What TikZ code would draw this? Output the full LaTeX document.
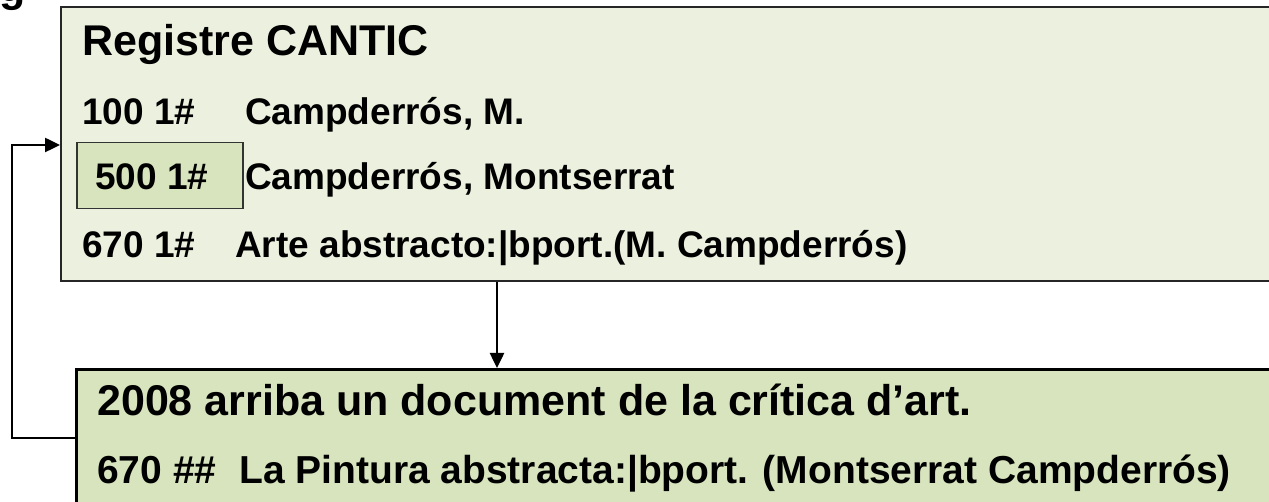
\documentclass[tikz,border=0pt]{standalone}
\usepackage{fontspec}
\setmainfont{Liberation Sans}
\usetikzlibrary{arrows.meta}
\definecolor{paleg}{HTML}{EBF1DE}
\definecolor{midg}{HTML}{D7E4BD}
\tikzset{
  boxa/.style={draw=black!85, line width=1.8pt, fill=paleg, anchor=north west, inner sep=0pt},
  boxb/.style={draw=black, line width=2.6pt, fill=midg, anchor=north west, inner sep=0pt},
  tagbox/.style={draw=black!80, line width=1.5pt, fill=midg, anchor=north west, inner sep=0pt},
  txt/.style={anchor=base west, inner sep=0pt, font=\fontsize{37}{44}\selectfont\bfseries},
  txtb/.style={anchor=base west, inner sep=0pt, font=\fontsize{39}{46}\selectfont\bfseries},
  ttl/.style={anchor=base west, inner sep=0pt, font=\fontsize{43}{50}\selectfont\bfseries},
  conn/.style={draw=black, line width=2.5pt, -{Triangle[length=15pt,width=14pt]}}
}
\begin{document}
\begin{tikzpicture}[x=1pt,y=-1pt]
\useasboundingbox (0,0) rectangle (1269,502);
\clip (0,0) rectangle (1269,502);
% partial glyph at top left
\node[ttl] (g) at (-1,2) {g};
% boxes
\node[boxa, minimum width=1230pt, minimum height=274pt] (reg) at (60,6) {};
\node[boxb, minimum width=1220pt, minimum height=150pt] (doc) at (75,368) {};
\node[tagbox, minimum width=166pt, minimum height=66pt] (tag) at (76,142) {};
% texts top box
\node[ttl] (t0) at (82,56) {Registre CANTIC};
\node[txt] (t1a) at (82,125) {100 1\#};
\node[txt] (t1b) at (245,125) {Campderrós, M.};
\node[txt] (t2a) at (95,190) {500 1\#};
\node[txt] (t2b) at (245,190) {Campderrós, Montserrat};
\node[txt] (t3a) at (82,258) {670 1\#};
\node[txt] (t3b) at (235,258) {Arte abstracto:|bport.(M. Campderrós)};
% texts bottom box
\node[ttl] (b0) at (97,416) {2008 arriba un document de la crítica d’art.};
\node[txtb] (b1a) at (97,483) {670 \#\#};
\node[txtb] (b1b) at (239,483) {La Pintura abstracta:|bport. (Montserrat Campderrós)};
% connectors
\coordinate (ax) at (497,0);
\coordinate (fy) at (0,438);
\coordinate (ty) at (0,145);
\coordinate (lx) at (12,0);
\draw[conn] (reg.south -| ax) -- (doc.north -| ax);
\draw[conn] (doc.west |- fy) -- (lx |- fy) -- (lx |- ty) -- (reg.west |- ty);
\end{tikzpicture}
\end{document}
